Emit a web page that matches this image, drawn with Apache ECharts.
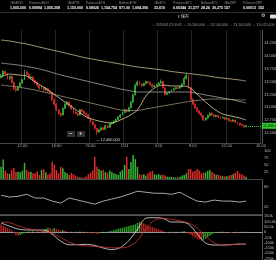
<!DOCTYPE html>
<html>
<head>
<meta charset="utf-8">
<script src="https://cdn.jsdelivr.net/npm/echarts@6/dist/echarts.min.js"></script>
<style>
html, body { margin: 0; padding: 0; background: #000; }
#chart { width: 276px; height: 260px; }
</style>
</head>
<body>
<div id="chart"></div>
<script>
// 15 minute candles from 2018/01/23 9:30, prices in thousands of yen
const slotCount = 123;
const startTime = new Date(2018, 0, 23, 9, 30);

// [open, close, low, high]
const ohlc = [
  [13580,13620,13560,13650],[13620,13700,13600,13720],[13700,13650,13630,13710],[13650,13560,13540,13670],
  [13560,13600,13530,13620],[13600,13480,13460,13620],[13480,13360,13330,13500],[13360,13330,13300,13390],
  [13330,13400,13320,13420],[13400,13470,13390,13490],[13470,13540,13450,13560],[13540,13690,13530,13730],
  [13690,13640,13620,13710],[13640,13570,13550,13660],[13570,13590,13540,13610],[13590,13520,13500,13600],
  [13520,13480,13450,13540],[13480,13420,13400,13500],[13420,13370,13340,13440],[13370,13390,13350,13410],
  [13390,13340,13310,13400],[13340,13360,13320,13390],[13360,13310,13290,13380],[13310,13290,13260,13330],
  [13290,13150,13120,13300],[13150,13060,13030,13170],[13060,12950,12920,13080],[12950,12880,12850,12970],
  [12880,12850,12810,12900],[12850,12980,12840,13000],[12980,13060,12960,13080],[13060,13100,13040,13130],
  [13100,13030,13010,13110],[13030,12970,12950,13050],[12970,12910,12880,12990],[12910,12880,12860,12930],
  [12880,12850,12820,12900],[12850,12950,12840,12970],[12950,12920,12900,12970],[12920,12880,12860,12940],
  [12880,12850,12830,12900],[12850,12790,12770,12870],[12790,12720,12700,12800],[12720,12660,12640,12740],
  [12660,12590,12560,12670],[12590,12520,12460,12600],[12520,12560,12500,12580],[12560,12600,12540,12620],
  [12600,12570,12550,12620],[12570,12640,12560,12660],[12640,12610,12590,12660],[12610,12680,12600,12700],
  [12680,12700,12660,12720],[12700,12730,12680,12750],[12730,12760,12710,12780],[12760,12810,12750,12830],
  [12810,12850,12790,12870],[12850,12900,12840,12920],[12900,12950,12880,12970],[12950,12920,12900,12970],
  [12920,12990,12910,13010],[12990,13100,12980,13130],[13100,13240,13090,13270],[13240,13430,13230,13460],
  [13430,13490,13410,13520],[13490,13450,13430,13510],[13450,13420,13400,13470],[13420,13460,13410,13480],
  [13460,13500,13440,13520],[13500,13480,13460,13510],[13480,13440,13420,13500],[13440,13400,13380,13460],
  [13400,13420,13390,13440],[13420,13440,13410,13460],[13440,13470,13430,13490],[13470,13500,13460,13540],
  [13500,13380,13360,13510],[13380,13250,13230,13390],[13250,13280,13240,13300],[13280,13300,13260,13320],
  [13300,13340,13290,13350],[13340,13360,13320,13380],[13360,13380,13350,13400],[13380,13370,13350,13390],
  [13370,13400,13360,13420],[13400,13450,13390,13470],[13450,13560,13440,13600],[13560,13620,13540,13660],
  [13620,13380,13360,13630],[13380,13150,13130,13390],[13150,13060,13040,13170],[13060,12990,12970,13080],
  [12990,12930,12900,13000],[12930,12880,12860,12940],[12880,12840,12800,12900],[12840,12750,12730,12850],
  [12750,12790,12740,12810],[12790,12840,12780,12860],[12840,12880,12820,12900],[12880,12850,12830,12900],
  [12850,12820,12800,12860],[12820,12840,12810,12860],[12840,12810,12790,12850],[12810,12790,12770,12820],
  [12790,12800,12780,12820],[12800,12770,12750,12810],[12770,12780,12760,12800],[12780,12740,12720,12790],
  [12740,12730,12710,12760],[12730,12750,12720,12770],[12750,12710,12690,12760],[12710,12690,12670,12720],
  [12690,12660,12640,12700],[12660,12650,12630,12680],[12650,12620,12600,12660],[12620,12640,12610,12650]
];

const volume = [
  43,69,30,21,18,32,39,26,26,24, 29,57,32,26,26,20,20,27,14,32,
  34,24,16,20,61,50,32,20,43,38, 25,20,14,22,17,12,8,5,4,5,
  9,17,22,30,79,43,35,30,32,24, 22,30,25,20,18,14,26,32,50,79,
  35,60,85,70,43,17,15,17,12,20, 26,29,17,15,17,13,15,12,8,7,
  8,6,5,6,8,12,14,20,35,35, 26,28,35,30,20,22,23,29,32,25,
  20,15,15,12,10,9,10,12,14,18, 23,29,20,17,12,8
];

const macdHist = [
  70,60,50,40,30, 15,-5,-30,-35,-28,-20,-12,-5,
  5,-5,8,-3,6,2,-4,
  15,30,40,35,28,38,30,22,15,20,12,5,
  -3,4,-5,3,-2,5,-4,2,-6,-10,-14,-8,
  -12,-18,-10,-5,3,-2,4,8,12,
  18,24,30,35,40,46,52,58,62,66,72,
  85,97,90,80,70,
  62,55,48,40,32,25,18,10,4,
  -3,4,-5,3,-2,4,-3,5,8,-4,
  -15,-28,-40,-52,-62,-70,-75,-72,-60,-48,-35,-22,-12,-5,
  3,-4,5,-3,2,-5,-8,-4,3,-6,-3,4,-2,2
];

// indicator lines read once an hour (candle index)
const lineIdx = [0,4,8,12,16,20,24,28,32,36,40,44,48,52,56,60,64,68,72,76,80,84,88,92,96,100,104,108,112,115];
const maShort = [13589,13647,13628,13608,13491,13394,13278,13161,13044,12928,12811,12753,12714,12694,12753,12830,12947,13219,13375,13433,13414,13414,13394,13258,13103,12967,12869,12830,12792,12753];
const maMid = [13433,13414,13394,13365,13336,13297,13258,13219,13180,13142,13103,13064,13025,12986,12947,12937,12937,12967,12996,13025,13054,13083,13112,13132,13151,13161,13161,13151,13142,13142];
const maLong = [13861,13841,13822,13793,13764,13725,13676,13628,13589,13550,13511,13472,13433,13394,13355,13326,13297,13297,13297,13297,13297,13297,13297,13268,13239,13210,13180,13151,13112,13083];
const maTop = [14308,14289,14259,14230,14192,14152,14114,14075,14036,13997,13958,13929,13900,13871,13841,13812,13783,13764,13744,13725,13696,13676,13657,13637,13618,13589,13569,13550,13530,13511];
const osc = [55,50,52,58,47,47,38,32,47,41,35,29,38,44,50,58,67,64,61,61,58,64,50,38,35,41,38,38,35,38];
const macd = [85,55,28,19,19,19,-20,-85,-120,-118,-115,-125,-150,-165,-145,-80,25,130,135,128,94,94,75,-15,-103,-122,-122,-118,-113,-113];
const signal = [94,88,60,35,20,5,-10,-50,-95,-120,-130,-135,-140,-148,-148,-135,-80,30,110,128,120,105,85,40,-40,-100,-122,-118,-113,-113];

const priceTicks = [12500,12750,13000,13250,13500,13750,14000,14250];
const volTicks = [25,50,75,100];
const oscTicks = [20,80];
const macdTicks = [-250,-200,-150,-100,-50,0,50,100,150];
const macdTickLabels = ['-250k','-200k','-150k','-100k','-50k','0','50.0k','100.0k','150k'];

const headerNames = ['#BitBCH','PoloniexBCH','#BitETH','PoloniexETH','BitfinexETH','#BitETC','PoloniexETC','BitfinexETC','#BitXRP','PoloniexXRP'];
const headerValues = ['1,005,500','0.09994  1,005,308','1,150,000','0.08026  1,154,754','971.00  1,094,396','33,610','0.00344  31,577','28.26  30,275','157','0.00013  152'];
const headerX = [10,29,67,86,119,154,173,201,224,243];
const infoText = '\u2191 2018/01/23 8:45  \u25CB 13,100,000  \u25CB 13,100,000  \u25CB 13,100,000  \u25CB 13,075,000  \u25CB 1';

const categories = [];
for (let i = 0; i < slotCount; i++) {
  const d = new Date(startTime.getTime() + i * 15 * 60000);
  categories.push((d.getMonth() + 1) + '/' + d.getDate() + ' ' + d.getHours() + ':' + String(d.getMinutes()).padStart(2, '0'));
}
const isMajor = (idx, val) => {
  const t = val.split(' ')[1].split(':');
  return t[1] === '00' && (+t[0]) % 4 === 0;
};
const tickName = val => {
  const p = val.split(' ');
  return p[1] === '0:00' ? p[0] : p[1];
};

const upColor = '#36b436', downColor = '#de2b2b';
const font = 'Liberation Sans';
const fmt = v => Math.round(v * 1000).toLocaleString('en-US');
const pairs = arr => arr.map((v, k) => [lineIdx[k], v]);

const volData = volume.map((v, i) => ({
  value: v, itemStyle: { color: ohlc[i][1] >= ohlc[i][0] ? upColor : downColor }
}));
const histData = macdHist.map((v, i) => ({
  value: v, itemStyle: { color: i > 0 && v >= macdHist[i - 1] ? '#2f9a2f' : '#b32222' }
}));

const last = ohlc[ohlc.length - 1][1];
let lowIdx = 0;
ohlc.forEach((c, i) => { if (c[2] < ohlc[lowIdx][2]) lowIdx = i; });

const xBase = gi => ({
  type: 'category', gridIndex: gi, data: categories, boundaryGap: true,
  axisTick: { show: false }, axisLabel: { show: false }, splitLine: { show: false },
  axisLine: { show: true, lineStyle: { color: '#444', width: 1 } }
});
const yBase = (gi, min, max, ticks, fmtFn, lineShow) => ({
  type: 'value', gridIndex: gi, position: 'right', min: min, max: max, scale: true,
  axisLine: { show: lineShow, lineStyle: { color: '#555' } },
  axisTick: { show: false }, splitLine: { show: false },
  axisLabel: { customValues: ticks, formatter: fmtFn, fontSize: 4, color: '#bbb', margin: 2, fontFamily: font }
});

const mainX = xBase(0);
mainX.axisLabel = { show: true, interval: isMajor, formatter: tickName, fontSize: 4, color: '#aaa', margin: 1, fontFamily: font };
mainX.splitLine = { show: true, interval: isMajor, lineStyle: { color: '#262626', width: 1 } };
const macdX = xBase(3);
macdX.axisLine = { show: true, onZero: true, lineStyle: { color: '#999', width: 1 } };

const maLine = (name, data, color) => ({
  name: name, type: 'line', xAxisIndex: 0, yAxisIndex: 0, data: pairs(data),
  showSymbol: false, smooth: 0.3, lineStyle: { color: color, width: 0.8 }, silent: true
});

const graphics = [
  { type: 'line', shape: { x1: 0, y1: 12.5, x2: 276, y2: 12.5 }, style: { stroke: '#2e2e2e', lineWidth: 1 } },
  { type: 'line', shape: { x1: 0, y1: 215.5, x2: 262, y2: 215.5 }, style: { stroke: '#555', lineWidth: 1 } },
  { type: 'text', left: 153, top: 23, style: { text: infoText, fill: '#999', font: '3.6px ' + font } },
  { type: 'text', left: 177, top: 14, style: { text: '\u21EA \u4FDD\u5B58', fill: '#ddd', font: '4px "Noto Sans CJK JP"' } },
  { type: 'text', left: 261, top: 13.5, style: { text: '\u2699', fill: '#ddd', font: '5px "DejaVu Sans"' } },
  { type: 'rect', shape: { x: 270, y: 14.5, width: 6, height: 4, r: 1 }, style: { fill: '#ddd' } },
  { type: 'rect', shape: { x: 67, y: 131, width: 8, height: 6 }, style: { fill: '#333' } },
  { type: 'rect', shape: { x: 77, y: 131, width: 8, height: 6 }, style: { fill: '#333' } },
  { type: 'text', left: 69.3, top: 131, style: { text: '\u2212', fill: '#eee', font: 'bold 5px ' + font } },
  { type: 'text', left: 79.3, top: 131, style: { text: '+', fill: '#eee', font: 'bold 5px ' + font } }
];
headerNames.forEach((n, k) => {
  graphics.push({ type: 'text', left: headerX[k], top: 1.5, style: { text: n, fill: '#8a8a8a', font: '3.3px ' + font } });
  graphics.push({ type: 'text', left: headerX[k], top: 6, style: { text: headerValues[k], fill: '#fff', font: 'bold 3.6px ' + font } });
});

const chart = echarts.init(document.getElementById('chart'));
chart.setOption({
  animation: false,
  backgroundColor: '#000',
  grid: [
    { left: 0, right: 14, top: 30, height: 113, containLabel: false, outerBoundsMode: 'none' },
    { left: 0, right: 14, top: 147, height: 32, containLabel: false, outerBoundsMode: 'none' },
    { left: 0, right: 14, top: 180, height: 34, containLabel: false, outerBoundsMode: 'none' },
    { left: 0, right: 14, top: 215, height: 45, containLabel: false, outerBoundsMode: 'none' }
  ],
  xAxis: [mainX, xBase(1), xBase(2), macdX],
  yAxis: [
    yBase(0, 12305, 14503, priceTicks, fmt, true),
    yBase(1, 0, 113, volTicks, v => String(v), false),
    yBase(2, 0, 100, oscTicks, v => String(v), true),
    yBase(3, -262, 160, macdTicks, v => macdTickLabels[macdTicks.indexOf(v)], true)
  ],
  graphic: graphics,
  series: [
    {
      name: 'price', type: 'candlestick', xAxisIndex: 0, yAxisIndex: 0, data: ohlc, barWidth: 1.4,
      itemStyle: { color: upColor, color0: downColor, borderColor: upColor, borderColor0: downColor, borderWidth: 0.8 },
      markLine: {
        silent: true, symbol: 'none',
        lineStyle: { color: '#3c3', type: 'dotted', width: 1 },
        label: {
          show: true, position: 'end', distance: 1, formatter: () => fmt(last),
          backgroundColor: '#3c3', color: '#000', fontSize: 3.6, padding: [1, 1], fontFamily: font
        },
        data: [[{ coord: [ohlc.length - 1, last] }, { coord: [slotCount - 1, last] }]]
      },
      markPoint: {
        silent: true, symbol: 'circle', symbolSize: 0,
        label: {
          show: true, position: 'right', distance: 0, offset: [-1, 5],
          formatter: () => '\u2190 ' + fmt(ohlc[lowIdx][2]),
          color: '#ddd', fontSize: 3.8, fontFamily: font
        },
        data: [{ coord: [lowIdx, ohlc[lowIdx][2]] }]
      }
    },
    maLine('maTop', maTop, '#c8b98c'),
    maLine('maLong', maLong, '#a5a5a5'),
    maLine('maMid', maMid, '#9c9277'),
    maLine('maShort', maShort, '#e4d3a0'),
    { name: 'volume', type: 'bar', xAxisIndex: 1, yAxisIndex: 1, data: volData, barWidth: 1.5, silent: true },
    {
      name: 'osc', type: 'line', xAxisIndex: 2, yAxisIndex: 2, data: pairs(osc), showSymbol: false,
      lineStyle: { color: '#cfcfcf', width: 0.8 }, silent: true
    },
    { name: 'hist', type: 'bar', xAxisIndex: 3, yAxisIndex: 3, data: histData, barWidth: 1.5, silent: true },
    {
      name: 'macd', type: 'line', xAxisIndex: 3, yAxisIndex: 3, data: pairs(macd), showSymbol: false, smooth: 0.3,
      lineStyle: { color: '#e6e6e6', width: 0.8 }, silent: true
    },
    {
      name: 'signal', type: 'line', xAxisIndex: 3, yAxisIndex: 3, data: pairs(signal), showSymbol: false, smooth: 0.3,
      lineStyle: { color: '#c33', width: 0.8 }, silent: true
    }
  ]
});
</script>
</body>
</html>
